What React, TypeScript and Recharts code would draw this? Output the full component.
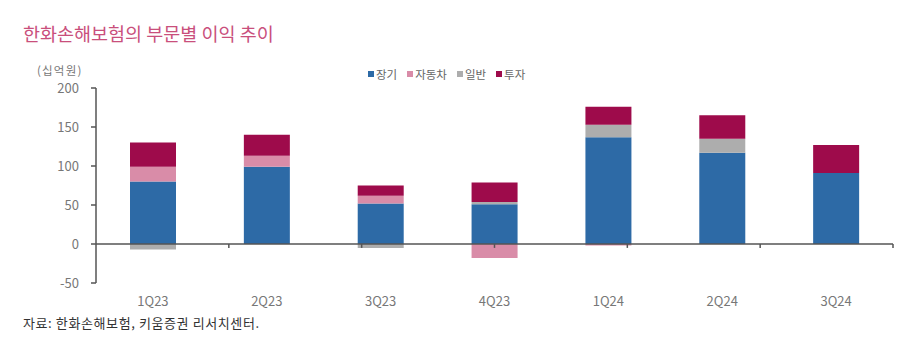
import React from "react";
import { BarChart, Bar, XAxis, YAxis, ReferenceLine } from "recharts";

// 분기별 부문 이익 (십억원)
const quarters = ["1Q23", "2Q23", "3Q23", "4Q23", "1Q24", "2Q24", "3Q24"];
const longTerm = [80, 99, 52, 51, 137, 117, 91];
const auto = [19, 14, 10, -18, -2, 0, 0];
const general = [-7, 0, -5, 3, 16, 18, 0];
const invest = [31, 27, 13, 25, 23, 30, 36];
const yTicks = [-50, 0, 50, 100, 150, 200];
const boundaries = [1, 2, 3, 4, 5, 6, 7];

const series = [
  { key: "longTerm", name: "장기", color: "#2D6AA6" },
  { key: "auto", name: "자동차", color: "#D98CA8" },
  { key: "general", name: "일반", color: "#ADADAD" },
  { key: "invest", name: "투자", color: "#9E0B4B" },
];

const data = quarters.map((q, i) => ({
  q,
  longTerm: longTerm[i],
  auto: auto[i],
  general: general[i],
  invest: invest[i],
}));

const FONT = "'Noto Sans CJK KR', 'Noto Sans', sans-serif";

// legend drawn as plain html so it doesn't eat plot height
const LegendBox = () => (
  <div
    style={{
      position: "absolute",
      left: 368,
      top: 66,
      display: "flex",
      gap: 10,
      fontSize: 11.5,
      color: "#666",
      whiteSpace: "nowrap",
    }}
  >
    {series.map((s) => (
      <span key={s.key} style={{ display: "flex", alignItems: "center" }}>
        <span
          style={{
            width: 6,
            height: 6,
            background: s.color,
            marginRight: 2,
            display: "inline-block",
          }}
        />
        {s.name}
      </span>
    ))}
  </div>
);

export default function App() {
  return (
    <div
      style={{
        position: "absolute",
        left: 0,
        top: 0,
        width: 900,
        height: 353,
        background: "#fff",
        fontFamily: FONT,
      }}
    >
      <div
        style={{
          position: "absolute",
          left: 23,
          top: 20,
          fontSize: 18.5,
          color: "#C94F7C",
          whiteSpace: "nowrap",
        }}
      >
        한화손해보험의 부문별 이익 추이
      </div>
      <div
        style={{
          position: "absolute",
          left: 37,
          top: 65,
          fontSize: 11.5,
          lineHeight: "11px",
          letterSpacing: 1.2,
          color: "#777",
        }}
      >
        (십억원)
      </div>
      <div
        style={{
          position: "absolute",
          left: 23,
          top: 313,
          fontSize: 13,
          letterSpacing: 0.6,
          color: "#333",
          whiteSpace: "nowrap",
        }}
      >
        자료: 한화손해보험, 키움증권 리서치센터.
      </div>
      <LegendBox />
      <BarChart
        width={900}
        height={353}
        data={data}
        stackOffset="sign"
        barSize={46}
        margin={{ top: 88, right: 7, bottom: 40, left: 46 }}
        style={{ position: "absolute", left: 0, top: 0 }}
      >
        <XAxis
          dataKey="q"
          axisLine={false}
          tickLine={false}
          height={30}
          tick={{ fill: "#777", fontSize: 13, fontFamily: FONT }}
          tickMargin={8}
        />
        <XAxis xAxisId="grid" type="number" domain={[0, 7]} hide />
        <YAxis
          width={50}
          domain={[-50, 200]}
          ticks={yTicks}
          interval={0}
          axisLine={{ stroke: "#555", strokeWidth: 1.5 }}
          tickLine={{ stroke: "#555", strokeWidth: 1.5 }}
          tickSize={5}
          tickMargin={12}
          tick={{ fill: "#777", fontSize: 13, fontFamily: FONT }}
        />
        {series.map((s) => (
          <Bar
            key={s.key}
            dataKey={s.key}
            name={s.name}
            stackId="a"
            fill={s.color}
            isAnimationActive={false}
          />
        ))}
        <ReferenceLine y={0} stroke="#555" strokeWidth={1.5} />
        {boundaries.map((b) => (
          <ReferenceLine
            key={b}
            xAxisId="grid"
            segment={[
              { x: b, y: 0 },
              { x: b, y: -5 },
            ]}
            stroke="#555"
            strokeWidth={1.5}
          />
        ))}
      </BarChart>
    </div>
  );
}
